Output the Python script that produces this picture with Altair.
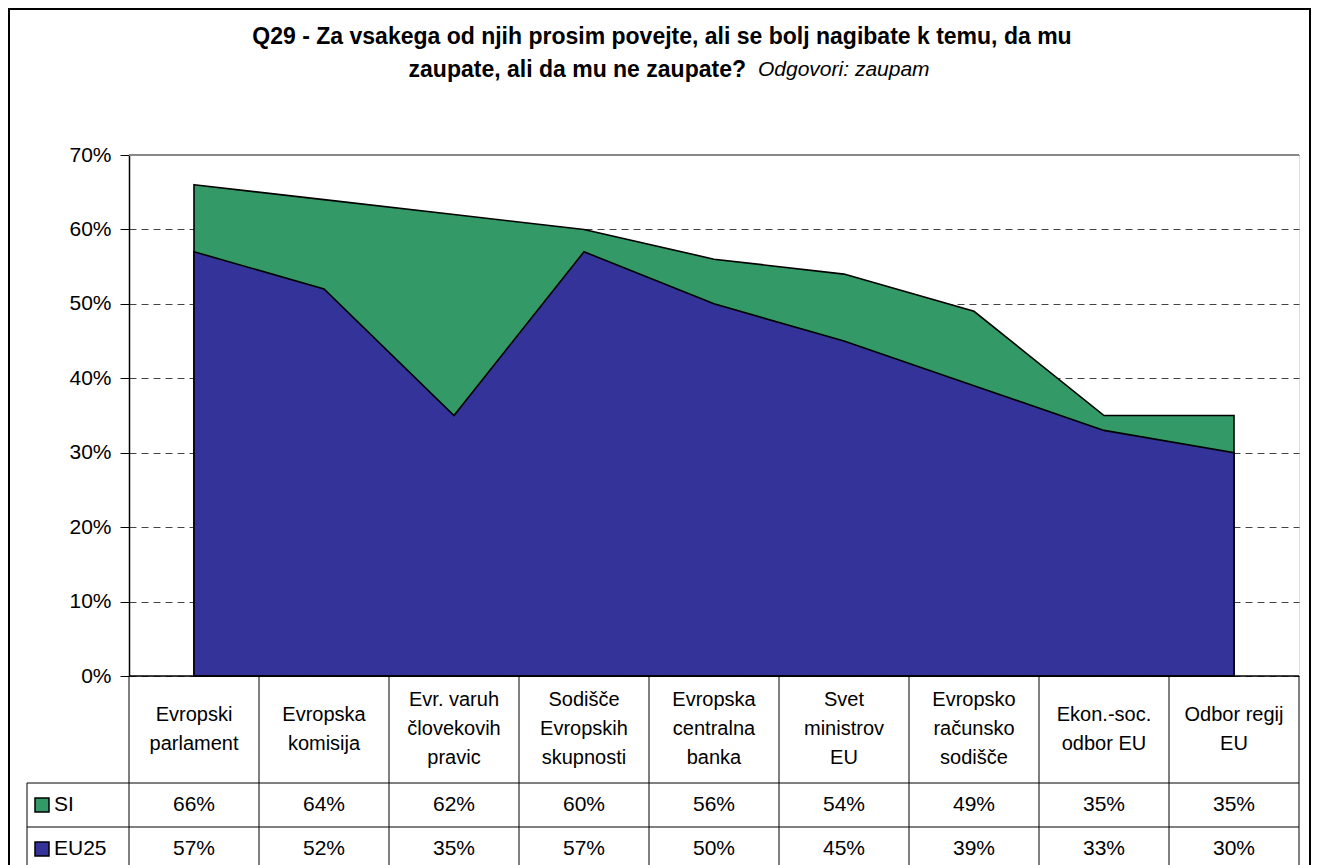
import altair as alt
import pandas as pd

categories = [
    "Evropski\nparlament",
    "Evropska\nkomisija",
    "Evr. varuh\nčlovekovih\npravic",
    "Sodišče\nEvropskih\nskupnosti",
    "Evropska\ncentralna\nbanka",
    "Svet\nministrov\nEU",
    "Evropsko\nračunsko\nsodišče",
    "Ekon.-soc.\nodbor EU",
    "Odbor regij\nEU",
]
si_values = [66, 64, 62, 60, 56, 54, 49, 35, 35]
eu25_values = [57, 52, 35, 57, 50, 45, 39, 33, 30]
series_names = ["SI", "EU25"]
series_colors = ["#339966", "#333399"]
y_ticks = [0, 0.1, 0.2, 0.3, 0.4, 0.5, 0.6, 0.7]
title_line1 = "Q29 - Za vsakega od njih prosim povejte, ali se bolj nagibate k temu, da mu"
title_line2_bold = "zaupate, ali da mu ne zaupate?"
title_line2_italic = "Odgovori: zaupam"

FONT = "Liberation Sans"
W, H = 1170, 521
PAD = {"left": 121, "top": 147, "right": 12, "bottom": 189}
LH = 29

n = len(categories)
df = pd.DataFrame({
    "idx": list(range(n)),
    "category": categories,
    "si": [v / 100 for v in si_values],
    "eu": [v / 100 for v in eu25_values],
})
bounds = pd.DataFrame({"b": [i - 0.5 for i in range(n + 1)]})
one = pd.DataFrame({"k": [0]})

xscale = alt.Scale(domain=[-0.5, n - 0.5], nice=False, zero=False)
yscale = alt.Scale(domain=[0, 0.7], nice=False)
yaxis = alt.Axis(values=y_ticks, format=".0%", title=None, labelFontSize=21,
                 labelFont=FONT, labelColor="black", labelPadding=9,
                 tickSize=9, tickColor="black", domainColor="black",
                 domainWidth=1.5, grid=True, gridColor="#444",
                 gridDash=[7, 5], gridWidth=1)
X = alt.X("idx:Q", scale=xscale, axis=None)

base = alt.Chart(df)

area_si = base.mark_area(fill=series_colors[0], stroke="black", strokeWidth=1.6,
                         opacity=1).encode(
    x=X, y=alt.Y("si:Q", scale=yscale, axis=yaxis))
area_eu = base.mark_area(fill=series_colors[1], stroke="black", strokeWidth=1.6,
                         opacity=1).encode(
    x=X, y=alt.Y("eu:Q", scale=yscale, axis=yaxis))

# plot frame: solid gray top, black bottom
top_line = alt.Chart(one).mark_rule(color="#888", strokeWidth=2).encode(
    x=alt.value(0), x2=alt.value(W), y=alt.value(0))
bottom_line = alt.Chart(one).mark_rule(color="black", strokeWidth=1.5).encode(
    x=alt.value(0), x2=alt.value(W), y=alt.value(H))

# table grid
vlines = alt.Chart(bounds).mark_rule(color="black", strokeWidth=1).encode(
    x=alt.X("b:Q", scale=xscale, axis=None), y=alt.value(H), y2=alt.value(H + 200))
hline1 = alt.Chart(one).mark_rule(color="black", strokeWidth=1).encode(
    x=alt.value(-102), x2=alt.value(W), y=alt.value(628))
hline2 = alt.Chart(one).mark_rule(color="black", strokeWidth=1).encode(
    x=alt.value(-102), x2=alt.value(W), y=alt.value(672))
left_border = alt.Chart(one).mark_rule(color="black", strokeWidth=1).encode(
    x=alt.value(-102), y=alt.value(628), y2=alt.value(H + 200))

header = base.transform_calculate(
    off="-(length(split(datum.category, '\\n')) - 1) * %f" % (LH / 2)
).mark_text(font=FONT, fontSize=20, lineBreak="\n", lineHeight=LH,
            baseline="middle", align="center", color="black").encode(
    x=X, y=alt.value(574), yOffset=alt.YOffset("off:Q", scale=None),
    text="category:N")
si_text = base.mark_text(font=FONT, fontSize=21, baseline="middle",
                         align="center", color="black").encode(
    x=X, y=alt.value(650), text=alt.Text("si:Q", format=".0%"))
eu_text = base.mark_text(font=FONT, fontSize=21, baseline="middle",
                         align="center", color="black").encode(
    x=X, y=alt.value(694), text=alt.Text("eu:Q", format=".0%"))

leg_layers = []
for name, color, yy in zip(series_names, series_colors, [650, 694]):
    leg_layers.append(alt.Chart(one).mark_square(
        size=196, fill=color, stroke="black", strokeWidth=1.5, opacity=1).encode(
        x=alt.value(-87), y=alt.value(yy)))
    leg_layers.append(alt.Chart(one).mark_text(
        font=FONT, fontSize=21, align="left", baseline="middle", color="black").encode(
        x=alt.value(-75), y=alt.value(yy), text=alt.value(name)))

# titles
t1 = alt.Chart(one).mark_text(font=FONT, fontSize=23, fontWeight="bold",
                              align="center", baseline="middle").encode(
    x=alt.value(533), y=alt.value(-118), text=alt.value(title_line1))
t2 = alt.Chart(one).mark_text(font=FONT, fontSize=23, fontWeight="bold",
                              align="right", baseline="middle").encode(
    x=alt.value(617), y=alt.value(-85), text=alt.value(title_line2_bold))
t3 = alt.Chart(one).mark_text(font=FONT, fontSize=21, fontStyle="italic",
                              align="left", baseline="middle").encode(
    x=alt.value(629), y=alt.value(-85), text=alt.value(title_line2_italic))

border = alt.Chart(one).mark_rect(fill="transparent", stroke="black",
                                  strokeWidth=2).encode(
    x=alt.value(-120), x2=alt.value(W + 11), y=alt.value(-146), y2=alt.value(H + 230))

chart = alt.layer(
    area_si, area_eu, top_line, bottom_line, vlines, hline1, hline2, left_border,
    header, si_text, eu_text, *leg_layers, t1, t2, t3, border
).properties(
    width=W, height=H, padding=PAD,
    autosize=alt.AutoSizeParams(type="none"),
).configure_view(stroke="#888", strokeWidth=1.5).configure(background="white")

chart.save("out.html", embed_options={"renderer": "svg", "actions": False})
